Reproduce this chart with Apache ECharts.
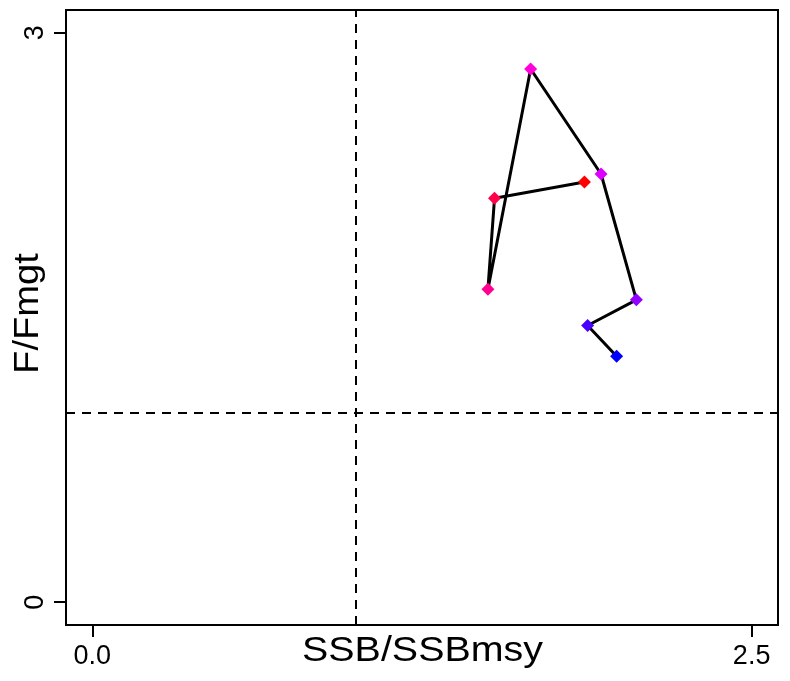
<!DOCTYPE html>
<html>
<head>
<meta charset="utf-8">
<script src="https://cdn.jsdelivr.net/npm/echarts@6/dist/echarts.min.js"></script>
<style>html,body{margin:0;padding:0;background:#fff;}#chart{width:790px;height:681px;}</style>
</head>
<body>
<div id="chart"></div>
<script>
// Data
var ssbRatio = [1.866, 1.525, 1.500, 1.662, 1.929, 2.063, 1.878, 1.988];
var fRatio   = [2.214, 2.128, 1.649, 2.809, 2.256, 1.593, 1.458, 1.296];
var pointColors = ['#FF0000', '#FF0049', '#FF0092', '#FF00DB', '#DB00FF', '#9200FF', '#4900FF', '#0000FF'];
var xTickValues = [0, 2.5];
var xTickLabels = ['0.0', '2.5'];
var yTickValues = [0, 3];
var yTickLabels = ['0', '3'];
var refX = 1;
var refY = 1;
var xTitle = 'SSB/SSBmsy';
var yTitle = 'F/Fmgt';

var font = 'Liberation Sans, Arial, Helvetica, sans-serif';
var pts = ssbRatio.map(function (x, i) {
  return { value: [x, fRatio[i]], itemStyle: { color: pointColors[i] } };
});

var chart = echarts.init(document.getElementById('chart'));
chart.setOption({
  animation: false,
  backgroundColor: '#fff',
  grid: { left: 66, right: 12, top: 10, bottom: 56, show: true, borderColor: '#000', borderWidth: 2,
    backgroundColor: 'transparent', containLabel: false, outerBoundsMode: 'none' },
  graphic: [
    { type: 'text', x: 422.5, y: 651, scaleX: 1.126, scaleY: 1,
      style: { text: xTitle, fontFamily: font, fontSize: 35, fill: '#000', align: 'center', verticalAlign: 'middle' } },
    { type: 'text', x: 28, y: 313.5, rotation: Math.PI / 2, scaleX: 1.09, scaleY: 1,
      style: { text: yTitle, fontFamily: font, fontSize: 35, fill: '#000', align: 'center', verticalAlign: 'middle' } }
  ],
  xAxis: {
    type: 'value', min: -0.1, max: 2.6,
    axisLine: { show: false, onZero: false },
    splitLine: { show: false },
    axisTick: { show: true, length: 12, lineStyle: { color: '#000', width: 2 }, customValues: xTickValues },
    axisLabel: { fontFamily: font, fontSize: 27, color: '#000', margin: 18,
      customValues: xTickValues,
      formatter: function (v) { var i = xTickValues.indexOf(v); return i >= 0 ? xTickLabels[i] : ''; } }
  },
  yAxis: {
    type: 'value', min: -0.12, max: 3.12,
    axisLine: { show: false, onZero: false },
    splitLine: { show: false },
    axisTick: { show: true, length: 12, lineStyle: { color: '#000', width: 2 }, customValues: yTickValues },
    axisLabel: { fontFamily: font, fontSize: 27, color: '#000', margin: 17, rotate: 90,
      customValues: yTickValues,
      formatter: function (v) { var i = yTickValues.indexOf(v); return i >= 0 ? yTickLabels[i] : ''; } }
  },
  series: [
    {
      type: 'line',
      data: pts,
      symbol: 'diamond',
      symbolSize: 13,
      lineStyle: { color: '#000', width: 3 },
      z: 3,
      markLine: {
        silent: true,
        symbol: 'none',
        label: { show: false },
        lineStyle: { color: '#000', type: [9, 7], width: 2 },
        data: [{ xAxis: refX }, { yAxis: refY }]
      }
    }
  ]
});
</script>
</body>
</html>
